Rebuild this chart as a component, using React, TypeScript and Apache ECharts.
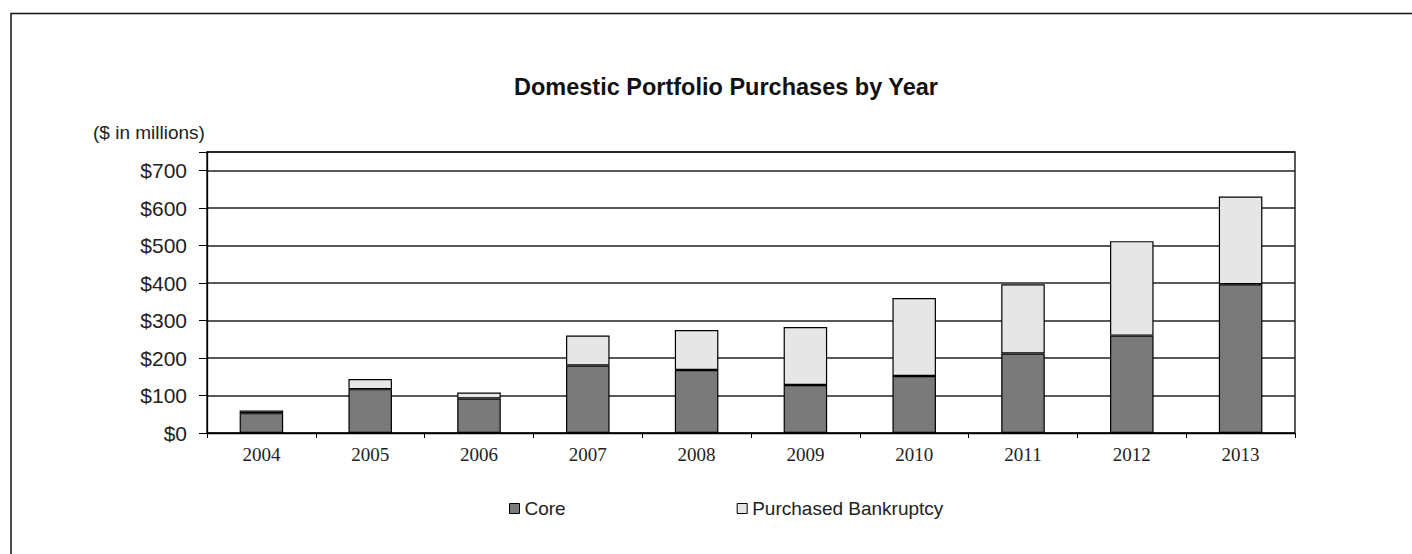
import React, { useEffect, useRef } from "react";
import * as echarts from "echarts";

const years = ["2004", "2005", "2006", "2007", "2008", "2009", "2010", "2011", "2012", "2013"];
const coreValues = [53, 117, 92, 180, 168, 128, 152, 212, 260, 397];
const bankruptcyValues = [7, 27, 16, 80, 107, 155, 208, 185, 252, 234];
const seriesNames = ["Core", "Purchased Bankruptcy"];
const titleText = "Domestic Portfolio Purchases by Year";
const unitText = "($ in millions)";

export default function App() {
  const ref = useRef<HTMLDivElement>(null);
  useEffect(() => {
    if (!ref.current) return;
    const chart = echarts.init(ref.current, undefined, { renderer: "svg" });
    const sans = "'Liberation Sans', Arial, sans-serif";
    chart.setOption({
      animation: false,
      backgroundColor: "#ffffff",
      grid: { left: 207, top: 152, right: 117, bottom: 121, show: true, borderColor: "#000", borderWidth: 1.3, containLabel: false },
      graphic: [
        { type: "rect", shape: { x: 11, y: 13.5, width: 1500, height: 700 }, style: { fill: "none", stroke: "#111", lineWidth: 1.5 }, silent: true },
        { type: "text", x: 726, y: 87, style: { text: titleText, font: `bold 23.5px ${sans}`, fill: "#111", textAlign: "center", textVerticalAlign: "middle" } },
        { type: "text", x: 93, y: 132, style: { text: unitText, font: `19px ${sans}`, fill: "#222", textAlign: "left", textVerticalAlign: "middle" } },
      ],
      legend: {
        data: seriesNames,
        left: 509,
        top: 499,
        padding: 0,
        icon: "rect",
        itemWidth: 10,
        itemHeight: 10,
        itemGap: 171,
        textStyle: { fontFamily: sans, fontSize: 19, color: "#222" },
        itemStyle: { borderColor: "#000", borderWidth: 1 },
      },
      xAxis: {
        type: "category",
        data: years,
        axisLine: { lineStyle: { color: "#000", width: 1.3 } },
        axisTick: { show: true, length: 5, lineStyle: { color: "#000" } },
        axisLabel: { fontFamily: "'Liberation Serif', 'Times New Roman', serif", fontSize: 19, color: "#222", margin: 12 },
      },
      yAxis: {
        type: "value",
        min: 0,
        max: 750,
        interval: 100,
        axisLine: { show: true, lineStyle: { color: "#000", width: 1.3 } },
        axisTick: { show: true, length: 8, lineStyle: { color: "#000" } },
        axisLabel: {
          fontFamily: sans,
          fontSize: 21,
          color: "#222",
          margin: 20,
          formatter: (v: number) => (v > 700 ? "" : "$" + v),
        },
        splitLine: { lineStyle: { color: "#222", width: 1.5 } },
      },
      series: [
        {
          name: seriesNames[0],
          type: "bar",
          stack: "total",
          data: coreValues,
          barWidth: "40%",
          itemStyle: { color: "#7a7a7a", borderColor: "#000", borderWidth: 1.2 },
        },
        {
          name: seriesNames[1],
          type: "bar",
          stack: "total",
          data: bankruptcyValues,
          barWidth: "40%",
          itemStyle: { color: "#e6e6e6", borderColor: "#000", borderWidth: 1.2 },
        },
      ],
    });
    return () => chart.dispose();
  }, []);
  return <div ref={ref} style={{ position: "absolute", left: 0, top: 0, width: 1412, height: 554 }} />;
}
